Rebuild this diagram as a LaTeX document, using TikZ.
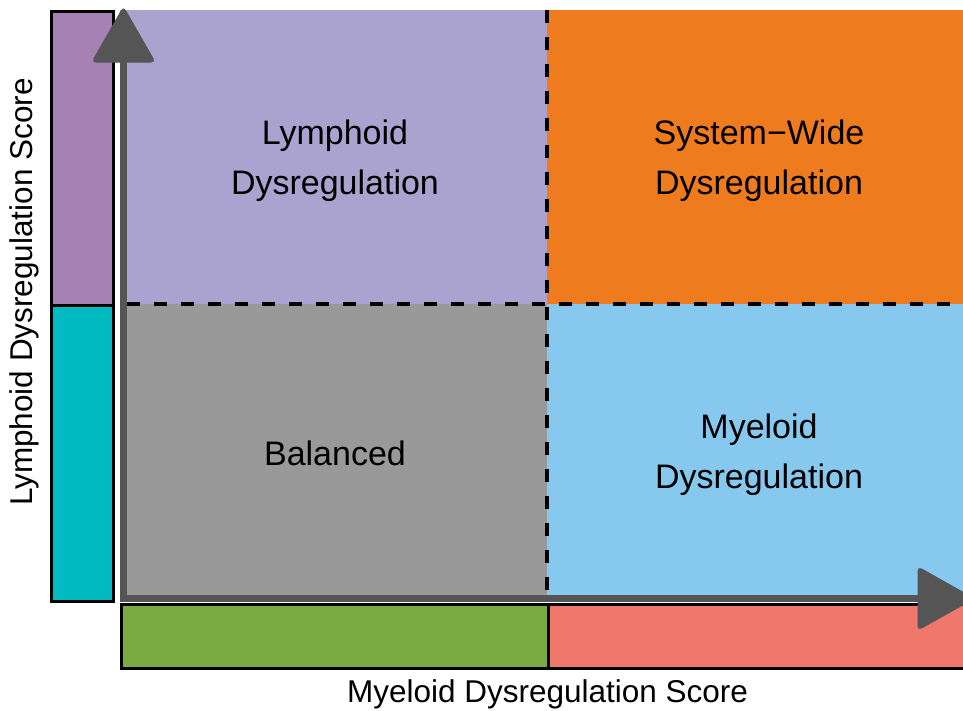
\documentclass[tikz,border=0pt]{standalone}
\usepackage{fontspec}
\setmainfont{Liberation Sans}
\definecolor{lymq}{HTML}{ABA3CF}
\definecolor{sysq}{HTML}{EE7C1E}
\definecolor{balq}{HTML}{999999}
\definecolor{myeq}{HTML}{87C8EE}
\definecolor{lymbar}{HTML}{A581B4}
\definecolor{balbar}{HTML}{00BBC2}
\definecolor{lowbar}{HTML}{79AB42}
\definecolor{highbar}{HTML}{F0776B}
\definecolor{axisgray}{HTML}{555555}
\tikzset{
  quadtext/.style={align=center,font=\fontsize{34}{50}\selectfont,text=black},
  axistext/.style={font=\fontsize{31.5}{36}\selectfont,text=black},
  barbox/.style={draw=black,line width=3pt},
  divider/.style={draw=black,line width=3.2pt,dash pattern=on 13pt off 14pt},
  axisshaft/.style={draw=axisgray,line width=7pt},
  axishead/.style={fill=axisgray,draw=axisgray,line width=1pt,rounded corners=4pt}
}
\begin{document}
\begin{tikzpicture}[x=1pt,y=-1pt]
\useasboundingbox (0,0) rectangle (963,710);
% quadrants
\fill[lymq] (120,10) rectangle (547,304);
\fill[sysq] (547,10) rectangle (970,304);
\fill[balq] (120,304) rectangle (547,600);
\fill[myeq] (547,304) rectangle (970,600);
% dividers
\coordinate (vtop) at (547,10);
\coordinate (vbot) at (547,596);
\coordinate (hl) at (127,304);
\coordinate (hr) at (970,304);
\draw[divider] (vtop) -- (vbot);
\draw[divider] (hl) -- (hr);
% quadrant labels
\node[quadtext] (lym) at (335,161) {Lymphoid\\Dysregulation};
\node[quadtext] (sys) at (759,161) {System\char"2212 Wide\\Dysregulation};
\node[quadtext] (bal) at (335,453) {Balanced};
\node[quadtext] (mye) at (759,455) {Myeloid\\Dysregulation};
% left bar
\filldraw[barbox,fill=lymbar] (51.5,11.5) rectangle (113.5,305);
\filldraw[barbox,fill=balbar] (51.5,305) rectangle (113.5,601.5);
% bottom bar
\filldraw[barbox,fill=lowbar] (121.5,604.5) rectangle (548,668);
\filldraw[barbox,fill=highbar] (548,604.5) rectangle (975,668);
% axes
\coordinate (origin) at (123.5,598.5);
\coordinate (ytip) at (123.5,62);
\coordinate (xtip) at (918,598.5);
\draw[axisshaft] (123.5,602) -- (ytip);
\draw[axisshaft] (120,598.5) -- (xtip);
\filldraw[axishead] (123.5,7) -- (155,62) -- (92,62) -- cycle;
\filldraw[axishead] (974,598.5) -- (918,630) -- (918,567) -- cycle;
% axis labels
\node[axistext] (xlab) at (547.5,694) {Myeloid Dysregulation Score};
\node[axistext,rotate=90] (ylab) at (24,292) {Lymphoid Dysregulation Score};
\end{tikzpicture}
\end{document}
